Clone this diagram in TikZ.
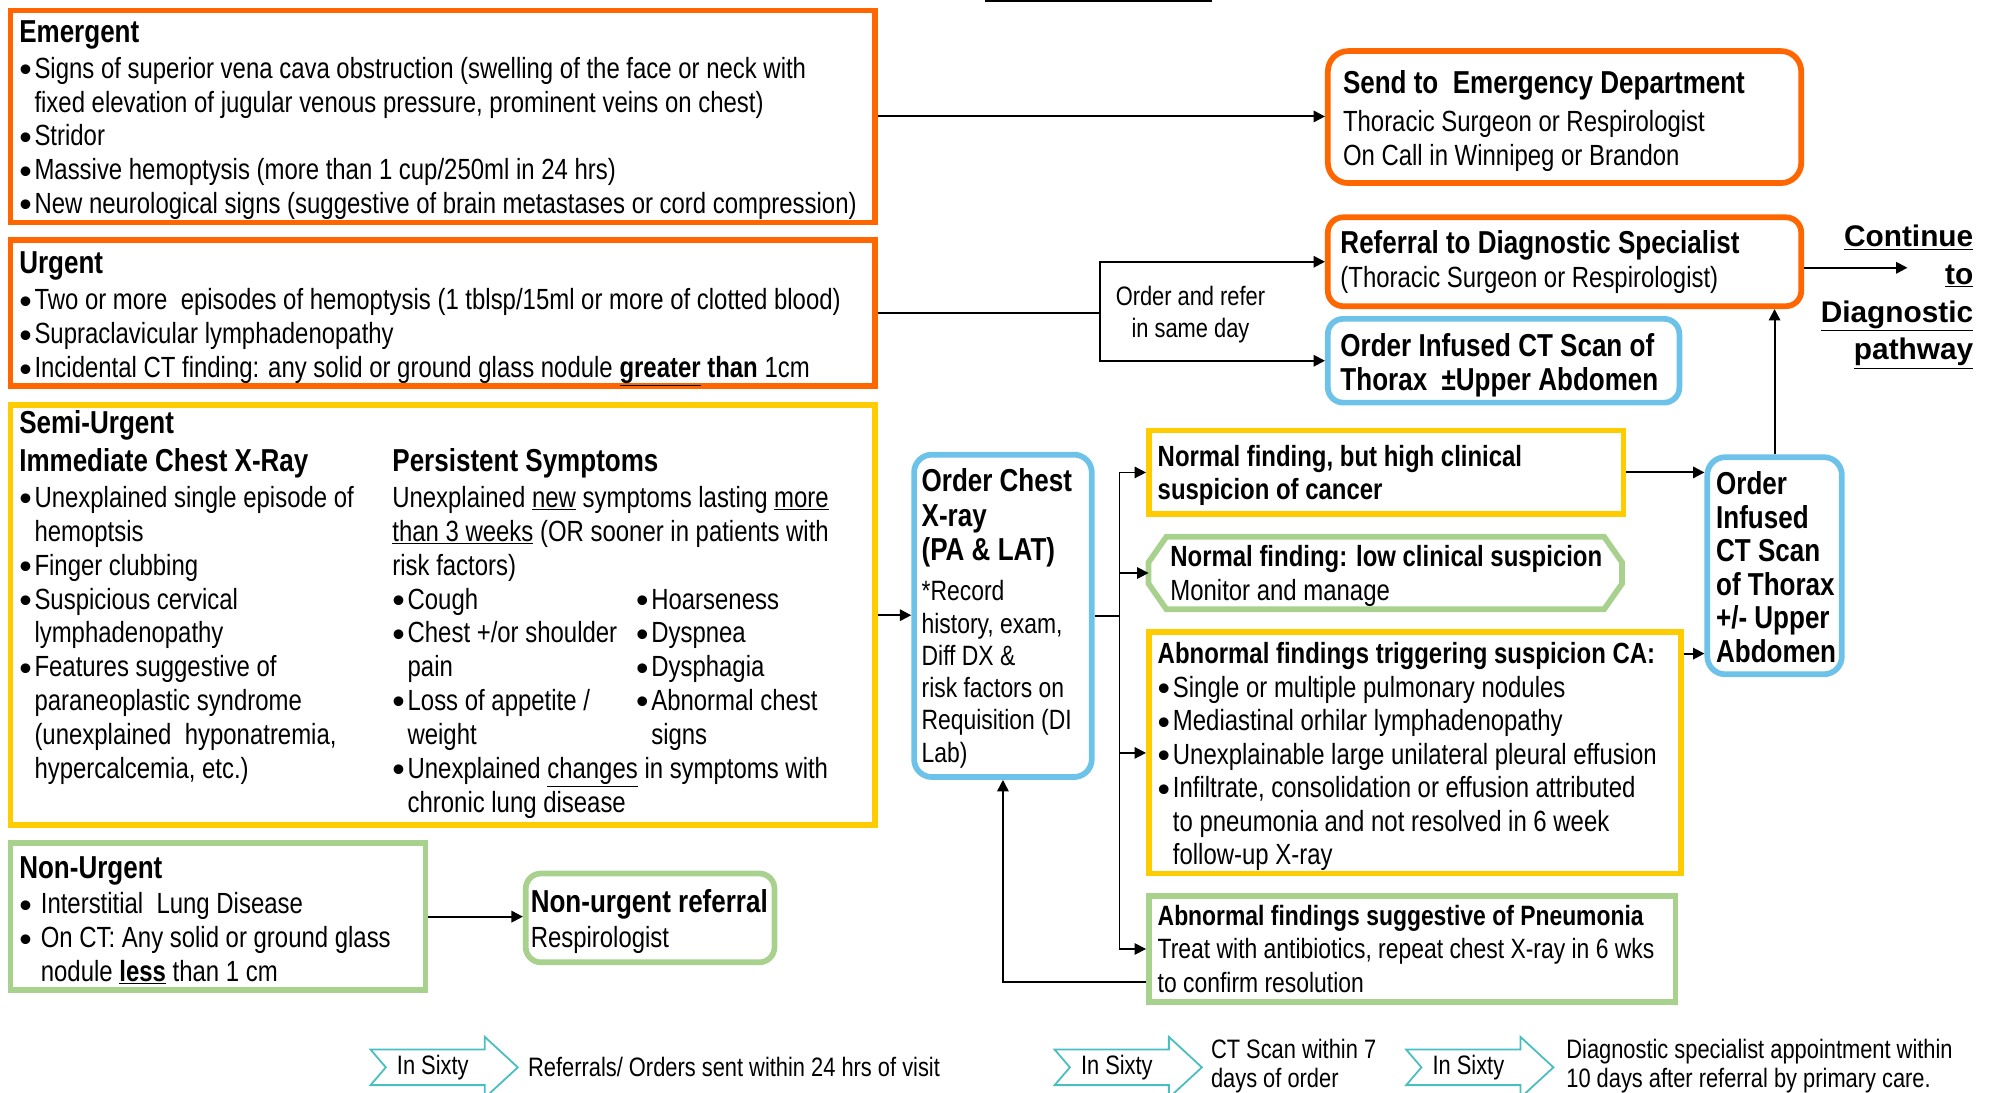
\documentclass[tikz,border=0pt]{standalone}
\usepackage{fontspec}
\setmainfont{Liberation Sans}[FakeStretch=0.82]
\newfontfamily\widefont{Liberation Sans}
\usetikzlibrary{arrows.meta, positioning}

\definecolor{boxorange}{RGB}{255,102,0}
\definecolor{boxyellow}{RGB}{255,204,0}
\definecolor{boxgreen}{RGB}{169,209,142}
\definecolor{boxblue}{RGB}{108,194,232}
\definecolor{chevteal}{RGB}{72,190,192}

\newcommand{\bodyfont}{\fontsize{23}{26.7}\selectfont}
\newcommand{\headfont}{\fontsize{25}{28}\selectfont\bfseries}
\newcommand{\bigdot}{\raisebox{-2.6pt}{\widefont\fontsize{28}{28}\selectfont\textbullet}}
\newcommand{\bul}{\makebox[12pt][l]{\bigdot}}
\newcommand{\ind}{\hspace*{12pt}}
\newcommand{\bulsp}{\makebox[17pt][l]{\bigdot}}
\newcommand{\indsp}{\hspace*{17pt}}

\begin{document}
\begin{tikzpicture}[x=1pt, y=-1pt,
    box/.style={rectangle, inner sep=0pt, anchor=north west, line width=4.5pt},
    sqbox/.style={box, draw=#1},
    rndbox/.style={box, draw=#1, rounded corners=12pt},
    txt/.style={inner sep=0pt, align=left, font=\bodyfont, yshift=-3pt},
    link/.style={line width=1.6pt, -{Triangle[length=9pt, width=9pt]}},
    wire/.style={line width=1.6pt},
    thinwire/.style={line width=1.2pt},
    chevron/.style={draw=chevteal, line width=1.4pt},
    legend/.style={inner sep=0pt, align=left, font=\fontsize{21}{23}\selectfont}
  ]
  \useasboundingbox (0,0) rectangle (1568,861);

  % -- clipped title underline at the top --
  \draw[line width=1.4pt] (776,0.7) -- (955,0.7);

  % -- Urgency levels (left column) --
  \node[sqbox=boxorange, minimum width=681pt, minimum height=167pt] (emerg) at (6,6) {};
  \node[txt, right=9pt of emerg.west] (emergtxt) {%
    {\headfont Emergent}\\[1.3pt]
    \bul Signs of superior vena cava obstruction (swelling of the face or neck with\\
    \ind fixed elevation of jugular venous pressure, prominent veins on chest)\\
    \bul Stridor\\
    \bul Massive hemoptysis (more than 1 cup/250ml in 24 hrs)\\
    \bul New neurological signs (suggestive of brain metastases or cord compression)};

  \node[sqbox=boxorange, minimum width=681pt, minimum height=115pt] (urg) at (6,187) {};
  \node[txt, right=9pt of urg.west, yshift=-1.5pt] (urgtxt) {%
    {\headfont Urgent}\\[2.3pt]
    \bul Two or more~ episodes of hemoptysis (1 tblsp/15ml or more of clotted blood)\\
    \bul Supraclavicular lymphadenopathy\\
    \bul Incidental CT finding: any solid or ground glass nodule \textbf{\underline{greater} than} 1cm};

  \node[sqbox=boxyellow, minimum width=681pt, minimum height=331pt] (semi) at (6,317) {};
  \node[txt, right=9pt of semi.west, yshift=3.5pt] (semitxt) {%
    {\headfont Semi-Urgent}\\[3.3pt]
    \makebox[294pt][l]{\headfont Immediate Chest X-Ray}{\headfont Persistent Symptoms}\\[1.3pt]
    \makebox[294pt][l]{\bul Unexplained single episode of}Unexplained \underline{new} symptoms lasting \underline{more}\\
    \makebox[294pt][l]{\ind hemoptsis}\underline{than 3 weeks} (OR sooner in patients with\\
    \makebox[294pt][l]{\bul Finger clubbing}risk factors)\\
    \makebox[294pt][l]{\bul Suspicious cervical}\makebox[192pt][l]{\bul Cough}\bul Hoarseness\\
    \makebox[294pt][l]{\ind lymphadenopathy}\makebox[192pt][l]{\bul Chest +/or shoulder}\bul Dyspnea\\
    \makebox[294pt][l]{\bul Features suggestive of}\makebox[192pt][l]{\ind pain}\bul Dysphagia\\
    \makebox[294pt][l]{\ind paraneoplastic syndrome}\makebox[192pt][l]{\bul Loss of appetite /}\bul Abnormal chest\\
    \makebox[294pt][l]{\ind (unexplained~ hyponatremia,}\makebox[192pt][l]{\ind weight}\ind signs\\
    \makebox[294pt][l]{\ind hypercalcemia, etc.)}\bul Unexplained \underline{changes} in symptoms with\\
    \makebox[294pt][l]{}\ind chronic lung disease};

  \node[sqbox=boxgreen, minimum width=327pt, minimum height=116pt] (nonurg) at (6,662) {};
  \node[txt, right=9pt of nonurg.west] (nonurgtxt) {%
    {\headfont Non-Urgent}\\[1.3pt]
    \bulsp Interstitial~ Lung Disease\\
    \bulsp On CT: Any solid or ground glass\\
    \indsp nodule \textbf{\underline{less}} than 1 cm};

  \node[rndbox=boxgreen, minimum width=196pt, minimum height=70pt] (nonref) at (412,686) {};
  \node[txt, right=6pt of nonref.west] (nonreftxt) {%
    {\headfont Non-urgent referral}\\[1.3pt]
    Respirologist};

  % -- Referral targets (top right) --
  \node[rndbox=boxorange, rounded corners=16pt, minimum width=373pt, minimum height=104pt] (sended) at (1044,38) {};
  \node[txt, right=14pt of sended.west] (sendedtxt) {%
    {\headfont Send to~ Emergency Department}\\[3.3pt]
    Thoracic Surgeon or Respirologist\\
    On Call in Winnipeg or Brandon};

  \node[rndbox=boxorange, minimum width=373pt, minimum height=70pt] (refds) at (1044,169) {};
  \node[txt, right=12pt of refds.west, yshift=3pt] (refdstxt) {%
    {\headfont Referral to Diagnostic Specialist}\\
    (Thoracic Surgeon or Respirologist)};

  \node[rndbox=boxblue, minimum width=277pt, minimum height=66pt] (cts) at (1044,249) {};
  \node[txt, right=12pt of cts.west, yshift=-0.5pt, font=\fontsize{25}{27}\selectfont\bfseries] (ctstxt) {%
    Order Infused CT Scan of\\
    Thorax~ ±Upper Abdomen};

  \node[txt, font=\fontsize{21}{25}\selectfont, align=center] (ordlbl) at (938,245) {Order and refer\\in same day};

  \node[txt, anchor=east, align=right, font=\widefont\bfseries\fontsize{23.5}{29.7}\selectfont] (cont) at (1555,231)
    {\underline{Continue}\\ \underline{to}\\ \underline{Diagnostic}\\ \underline{pathway}};

  % -- Chest X-ray and findings --
  \node[rndbox=boxblue, rounded corners=14pt, minimum width=140pt, minimum height=254pt] (chest) at (718,356) {};
  \node[txt, right=8pt of chest.west, yshift=1pt, font=\fontsize{22}{25.4}\selectfont] (chesttxt) {%
    {\fontsize{25}{27}\selectfont\bfseries Order Chest}\\[1.6pt]
    {\fontsize{25}{27}\selectfont\bfseries X-ray}\\[1.6pt]
    {\fontsize{25}{27}\selectfont\bfseries (PA \& LAT)}\\[6.6pt]
    *Record\\
    history, exam,\\
    Diff DX \&\\
    risk factors on\\
    Requisition (DI\\
    Lab)};

  \node[sqbox=boxyellow, minimum width=374pt, minimum height=66pt] (normhi) at (903,337) {};
  \node[txt, right=9pt of normhi.west, yshift=1pt, font=\fontsize{23}{26}\selectfont\bfseries] (normhitxt) {%
    Normal finding, but high clinical\\
    suspicion of cancer};

  \node[box, outer sep=0pt, minimum width=373pt, minimum height=57pt] (normlo) at (905,423) {};
  \draw[boxgreen, line width=4.5pt] ([xshift=14pt]normlo.north west) -- ([xshift=-14pt]normlo.north east)
    -- ([yshift=-20pt]normlo.north east) -- ([yshift=20pt]normlo.south east)
    -- ([xshift=-14pt]normlo.south east) -- ([xshift=14pt]normlo.south west)
    -- ([yshift=20pt]normlo.south west) -- ([yshift=-20pt]normlo.north west) -- cycle;
  \node[txt, right=17pt of normlo.west, yshift=1pt] (normlotxt) {%
    {\bfseries Normal finding: low clinical suspicion}\\
    Monitor and manage};

  \node[sqbox=boxyellow, minimum width=419pt, minimum height=190pt] (abnca) at (903,496) {};
  \node[txt, right=9pt of abnca.west, font=\fontsize{23}{26.4}\selectfont] (abncatxt) {%
    {\bfseries Abnormal findings triggering suspicion CA:}\\
    \bul Single or multiple pulmonary nodules\\
    \bul Mediastinal orhilar lymphadenopathy\\
    \bul Unexplainable large unilateral pleural effusion\\
    \bul Infiltrate, consolidation or effusion attributed\\
    \ind to pneumonia and not resolved in 6 week\\
    \ind follow-up X-ray};

  \node[rndbox=boxblue, rounded corners=14pt, minimum width=106pt, minimum height=171pt] (ctr) at (1343,358) {};
  \node[txt, right=9pt of ctr.west, yshift=2pt, font=\fontsize{25}{26.4}\selectfont\bfseries] (ctrtxt) {%
    Order\\ Infused\\ CT Scan\\ of Thorax\\ +/- Upper\\ Abdomen};

  \node[sqbox=boxgreen, minimum width=415pt, minimum height=83pt] (pneu) at (903,704) {};
  \node[txt, right=9pt of pneu.west, yshift=3pt, font=\fontsize{22}{26.5}\selectfont] (pneutxt) {%
    {\bfseries Abnormal findings suggestive of Pneumonia}\\
    Treat with antibiotics, repeat chest X-ray in 6 wks\\
    to confirm resolution};

  % -- Connectors --
  \draw[link] (emerg.east) -- (emerg.east -| sended.west);
  \coordinate (ordsplit) at (867,246);
  \draw[wire] (urg.east) -- (urg.east -| ordsplit);
  \draw[link] (urg.east -| ordsplit) |- (refds.west);
  \draw[link] (urg.east -| ordsplit) |- (cts.west);
  \draw[link] (semi.east) -- (semi.east -| chest.west);
  \draw[link] (nonurg.east) -- (nonurg.east -| nonref.west);

  \coordinate (chestsplit) at (882,485);
  \draw[wire] (chest.east) -- (chest.east -| chestsplit);
  \draw[thinwire] (chestsplit |- normhi.west) -- (chestsplit |- pneu.west);
  \foreach \tgt in {normhi, normlo, abnca, pneu}
    \draw[link, line width=1.2pt] (chestsplit |- \tgt.west) -- (\tgt.west);
  \draw[link, line width=1.2pt] ([yshift=-26pt]pneu.west) -| (chest.south);

  \draw[link] (normhi.east) -- (normhi.east -| ctr.west);
  \coordinate (abnout) at ([yshift=-19pt]abnca.north east);
  \draw[link] (abnout) -- (abnout -| ctr.west);
  \draw[link] (ctr.north) -- (ctr.north |- refds.south);
  \coordinate (contend) at (1503,211);
  \draw[link] (refds.east |- contend) -- (contend);

  % -- Timing legend --
  \foreach \cx [count=\i] in {292, 831, 1108} {
    \draw[chevron] (\cx,827) -- (\cx+90,827) -- (\cx+90,817) -- (\cx+116,841)
      -- (\cx+90,865) -- (\cx+90,855) -- (\cx,855) -- (\cx+12,841) -- cycle;
    \node[legend] (sixty\i) at (\cx+49,841) {In Sixty};
  }
  \node[legend, anchor=west] (leg1) at (416,841) {Referrals/ Orders sent within 24 hrs of visit};
  \node[legend, anchor=west] (leg2) at (954,840) {CT Scan within 7\\days of order};
  \node[legend, anchor=west] (leg3) at (1234,840) {Diagnostic specialist appointment within\\10 days after referral by primary care.};
\end{tikzpicture}
\end{document}
